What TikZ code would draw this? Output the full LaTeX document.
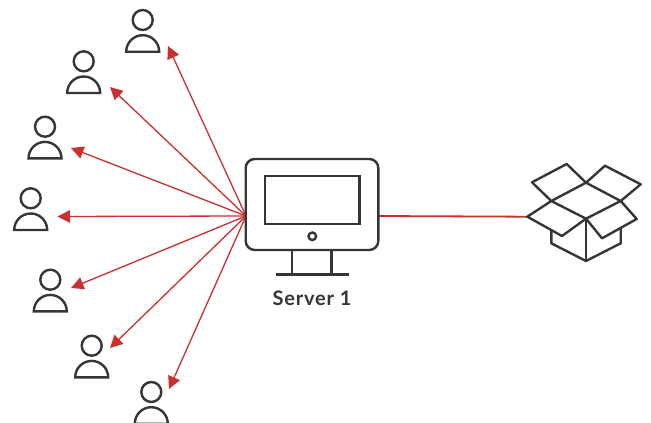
\documentclass[tikz,border=0pt]{standalone}
\usepackage{fontspec}
\setmainfont{Lato}
\newfontfamily\labelfont[LetterSpace=4]{Lato}
\usetikzlibrary{arrows.meta}
\definecolor{ink}{HTML}{363636}
\definecolor{linkred}{HTML}{C9302F}
\tikzset{
  icon/.style={draw=ink,line width=2.4pt,line join=miter},
  link/.style={draw=linkred,line width=1.3pt},
  fan/.style={link,-{Triangle[length=12.5pt,width=12.5pt]}},
  label/.style={text=ink,font=\labelfont\fontsize{20}{22}\selectfont\bfseries,inner sep=0pt}
}
\newcommand{\usericon}[3]{% name, head x, head y
  \draw[icon] (#2,#3) circle[radius=10];
  \draw[icon] (#2-16.5,#3+31.7) arc[start angle=180,end angle=360,radius=16.5] -- cycle;
  \coordinate (#1) at (#2,#3);
}
\begin{document}
\begin{tikzpicture}[x=1pt,y=-1pt]
\useasboundingbox (0,0) rectangle (651,423);
% users
\usericon{u1}{142.7}{20}
\usericon{u2}{83.7}{61.3}
\usericon{u3}{45}{126.7}
\usericon{u4}{30.7}{198.3}
\usericon{u5}{50.3}{279.7}
\usericon{u6}{91.7}{345.7}
\usericon{u7}{151.3}{392}
% arrow ends
\coordinate (t1) at (168,46);
\coordinate (t2) at (110,87);
\coordinate (t3) at (71,148);
\coordinate (t4) at (57.5,216.5);
\coordinate (t5) at (71,288);
\coordinate (t6) at (110,348);
\coordinate (t7) at (169,389);
\coordinate (hub) at (246,216);
\coordinate (srv) at (378.3,216);
\coordinate (boxL) at (527.3,216.7);
% connectors
\foreach \t in {t1,t2,t3,t4,t5,t6,t7} \draw[fan] (hub) -- (\t);
\draw[link,line width=1.8pt] (srv) -- (boxL);
% monitor
\node[icon,fill=white,rounded corners=9pt,minimum width=132.6pt,minimum height=91pt,inner sep=0pt,outer sep=0pt,anchor=north west] (server) at (245.7,159) {};
\node[icon,minimum width=94.6pt,minimum height=48pt,inner sep=0pt,outer sep=0pt,anchor=north west] (screen) at (264.7,176) {};
\draw[icon] (312.3,236.3) circle[radius=3.8];
\draw[icon] (292,250) -- (292,274.3) (331.5,250) -- (331.5,274.3);
\draw[icon] (275.7,274.3) -- (349,274.3);
\node[label] (slabel) at (312,298.3) {Server 1};
% box
\foreach \n/\p in {A/{566.7,164},B/{532,182.3},C/{586,182.7},D/{551.3,201},E/{605,165.7},F/{640.7,184.3},G/{620.7,201},H/{586,218.7},J/{562,236},K/{636.7,219},L/{602,238.3},P/{551.3,230},Q/{551.3,243.3},R/{586,261},S/{620.7,243.3},T/{620.7,227.3}}
  \coordinate (\n) at (\p);
\draw[icon,line join=round] (D) -- (B) -- (A) -- (C) -- (E) -- (F) -- (G) -- (K) -- (L) -- (H) -- (J) -- (boxL) -- (D) -- (H) -- (G) -- (C) -- (D);
\draw[icon,line join=round] (P) -- (Q) -- (R) -- (S) -- (T);
\draw[icon] (H) -- (R);
\end{tikzpicture}
\end{document}
